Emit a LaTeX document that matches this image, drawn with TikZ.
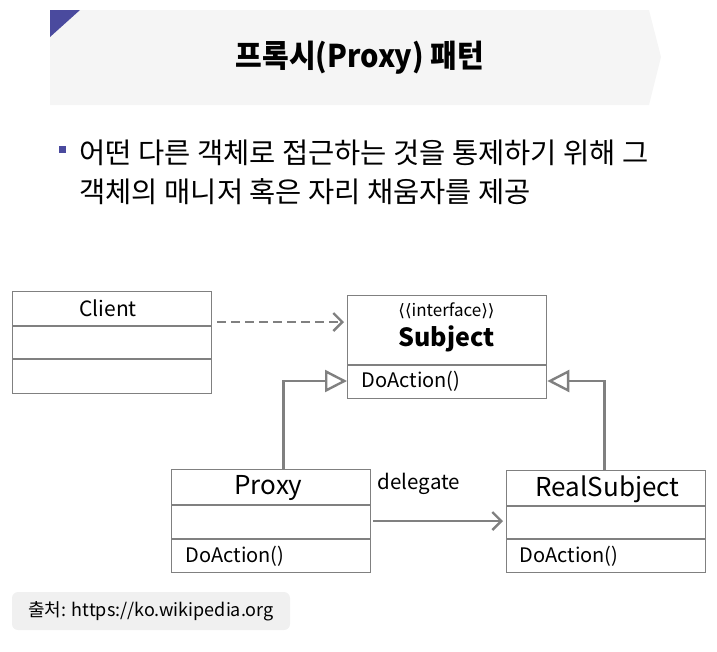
\documentclass[tikz,border=0pt]{standalone}
\usepackage{fontspec}
\setmainfont{Noto Sans CJK KR}
\newfontfamily\symfont{DejaVu Sans}
\usetikzlibrary{arrows.meta,positioning}

\definecolor{bannerbg}{HTML}{F5F5F5}
\definecolor{accent}{HTML}{4A4A9E}
\definecolor{umlgray}{HTML}{808080}
\definecolor{notebg}{HTML}{F0F0F0}

\tikzset{
    classbox/.style={draw=umlgray, line width=1.3pt, minimum width=199pt, inner sep=0pt, anchor=north west},
    part/.style={draw=umlgray, line width=1.3pt},
    link/.style={draw=umlgray, line width=2.8pt},
    realize/.style={link, -{Triangle[open, length=22pt, width=22pt, line width=2.4pt]}},
    depend/.style={link, dash pattern=on 9pt off 5pt, -{Straight Barb[length=9pt, width=18pt, line width=2.4pt]}},
    assoc/.style={link, -{Straight Barb[length=9pt, width=18pt, line width=2.4pt]}},
}

\begin{document}
\begin{tikzpicture}[x=1pt, y=-1pt]
    \useasboundingbox (0,0) rectangle (717,651);

    % title banner
    \fill[bannerbg] (50,10) -- (649,10) -- (661,57) -- (649,105) -- (50,105) -- cycle;
    \fill[accent] (50,10) -- (80,10) -- (50,37) -- cycle;
    \node[font=\fontsize{29}{32}\selectfont\bfseries, yscale=1.08] (title) at (360,58) {프록시(Proxy) 패턴};

    % bullet text
    \fill[accent] (59,146) rectangle (66,153);
    \node[anchor=base west, font=\fontsize{28.5}{38}\selectfont] (line1) at (76,163) {어떤 다른 객체로 접근하는 것을 통제하기 위해 그};
    \node[anchor=base west, font=\fontsize{28.5}{38}\selectfont] (line2) at (76,202) {객체의 매니저 혹은 자리 채움자를 제공};

    % Client
    \node[classbox, minimum height=102pt] (client) at (12,291) {};
    \draw[part] (client.west |- 0,326) -- (client.east |- 0,326);
    \draw[part] (client.west |- 0,359) -- (client.east |- 0,359);
    \node[font=\fontsize{21}{24}\selectfont] (clientname) at (108,308) {Client};

    % Subject
    \node[classbox, minimum height=103pt] (subject) at (347,295) {};
    \draw[part] (subject.west |- 0,365) -- (subject.east |- 0,365);
    \node[font=\fontsize{17}{20}\selectfont] (stereo) at (446.5,311) {{\symfont ⟨⟨}interface{\symfont ⟩⟩}};
    \node[font=\fontsize{25}{28}\selectfont\bfseries] (subjectname) at (446.5,339) {Subject};
    \node[anchor=west, font=\fontsize{20}{22}\selectfont] (subjectop) at (358,381) {DoAction()};

    % Proxy
    \node[classbox, minimum height=103pt] (proxy) at (171,469) {};
    \draw[part] (proxy.west |- 0,505) -- (proxy.east |- 0,505);
    \draw[part] (proxy.west |- 0,539) -- (proxy.east |- 0,539);
    \node[font=\fontsize{26}{28}\selectfont] (proxyname) at (268.5,488) {Proxy};
    \node[anchor=west, font=\fontsize{20}{22}\selectfont] (proxyop) at (182,556) {DoAction()};

    % RealSubject
    \node[classbox, minimum height=102pt] (real) at (506,470) {};
    \draw[part] (real.west |- 0,506) -- (real.east |- 0,506);
    \draw[part] (real.west |- 0,539) -- (real.east |- 0,539);
    \node[font=\fontsize{26}{28}\selectfont] (realname) at (607.5,489) {RealSubject};
    \node[anchor=west, font=\fontsize{20}{22}\selectfont] (realop) at (516,556) {DoAction()};

    % connectors
    \draw[depend] ([xshift=5pt]client.east |- 0,322) -- ([xshift=-3pt]subject.west |- 0,322);
    \draw[realize] ([xshift=12.5pt]proxy.north) |- (subject.west |- subjectop);
    \draw[realize] ([xshift=-1.5pt]real.north) |- (subject.east |- subjectop);
    \draw[assoc] ([xshift=2pt]proxy.east |- 0,521) -- ([xshift=-3pt]real.west |- 0,521);
    \node[font=\fontsize{20.5}{22}\selectfont] (delegate) at (419,484) {delegate};

    % source note
    \node[fill=notebg, rounded corners=6pt, minimum width=278pt, minimum height=38pt,
          font=\fontsize{18}{20}\selectfont] (source) at (151,611) {출처: https://ko.wikipedia.org};
\end{tikzpicture}
\end{document}
